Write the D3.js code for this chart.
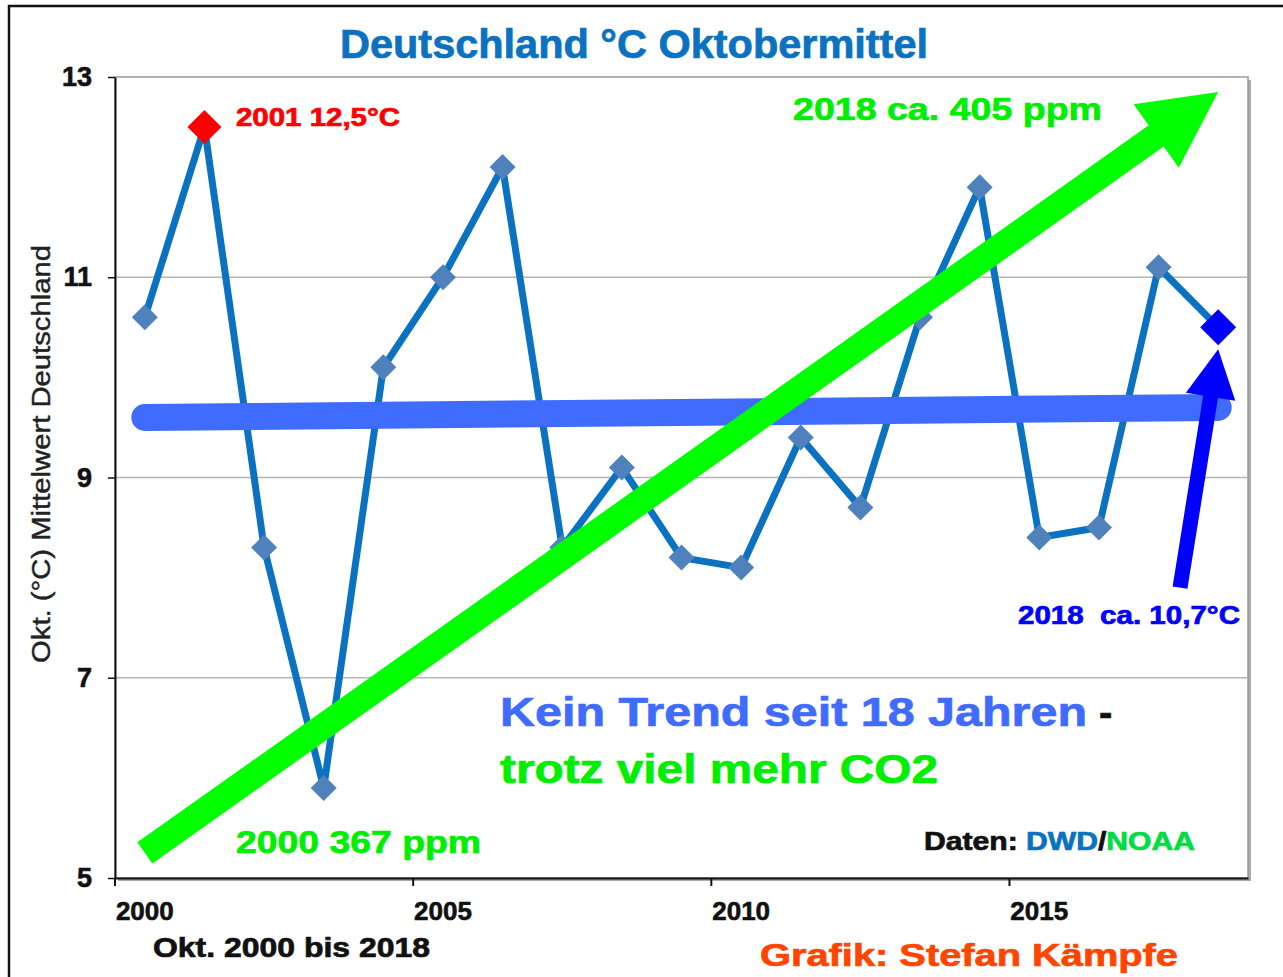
<!DOCTYPE html>
<html>
<head>
<meta charset="utf-8">
<script src="https://cdn.jsdelivr.net/npm/d3@7"></script>
<style>
  html, body { margin: 0; padding: 0; background: #fff; }
  text { font-family: "Liberation Sans", Arial, sans-serif; }
</style>
</head>
<body>
<div id="chart"></div>
<script>
// data
const years = ["2000", "2001", "2002", "2003", "2004", "2005", "2006", "2007", "2008", "2009",
               "2010", "2011", "2012", "2013", "2014", "2015", "2016", "2017", "2018"];
const temps = [10.6, 12.5, 8.3, 5.9, 10.1, 11.0, 12.1, 8.3, 9.1, 8.2,
               8.1, 9.4, 8.7, 10.6, 11.9, 8.4, 8.5, 11.1, 10.5];
const yTicks = [5, 7, 9, 11, 13];
const xTickLabels = ["2000", "2005", "2010", "2015"];
const trendYears = [2000, 2018];
const trendValues = [9.6, 9.7];
const co2Arrow = [[2000, 5.25], [2018, 12.85]];   // [year, °C] tail -> tip
const lastArrow = [[2017.36, 7.9], [2018, 10.28]];

const width = 1283;
const height = 977;
const plotLeft = 115, plotRight = 1248, plotTop = 77, plotBottom = 878;

const svg = d3.select("#chart")
    .append("svg")
    .attr("width", width)
    .attr("height", height);

// outer frame
svg.append("rect")
    .attr("x", 9).attr("y", 6)
    .attr("width", 1300).attr("height", 1000)
    .attr("fill", "#fff")
    .attr("stroke", "#111")
    .attr("stroke-width", 2.5);

const x = d3.scaleBand().domain(years).range([plotLeft, plotRight]);
const xc = d => x(d) + x.bandwidth() / 2;
const xYear = d3.scaleLinear()
    .domain([2000, 2018])
    .range([xc("2000"), xc("2018")]);
const y = d3.scaleLinear().domain([5, 13]).range([plotBottom, plotTop]);

// plot shadow + border
svg.append("rect")
    .attr("x", plotLeft + 3).attr("y", plotTop + 3)
    .attr("width", plotRight - plotLeft).attr("height", plotBottom - plotTop)
    .attr("fill", "#aaa");
svg.append("rect")
    .attr("x", plotLeft).attr("y", plotTop)
    .attr("width", plotRight - plotLeft).attr("height", plotBottom - plotTop)
    .attr("fill", "#fff")
    .attr("stroke", "#999")
    .attr("stroke-width", 1.5);

// gridlines
svg.selectAll(".grid")
    .data(yTicks.slice(1))
    .enter()
    .append("line")
    .attr("class", "grid")
    .attr("x1", plotLeft).attr("x2", plotRight)
    .attr("y1", d => y(d)).attr("y2", d => y(d))
    .attr("stroke", "#b5b5b5")
    .attr("stroke-width", 1.5);

// y axis
const yAxis = svg.append("g")
    .attr("transform", `translate(${plotLeft},0)`)
    .call(d3.axisLeft(y).tickValues(yTicks).tickSize(7).tickPadding(16).tickSizeOuter(0));
yAxis.select(".domain").attr("stroke", "#111").attr("stroke-width", 2);
yAxis.selectAll(".tick line").attr("stroke", "#111").attr("stroke-width", 1.5);
yAxis.selectAll("text")
    .attr("font-size", 27).attr("font-weight", "bold").attr("fill", "#111")
    .attr("stroke", "#111").attr("stroke-width", 0.6)
    .style("font-family", "'Liberation Sans', Arial, sans-serif");

// x axis
const xAxis = svg.append("g")
    .attr("transform", `translate(0,${plotBottom})`)
    .call(d3.axisBottom(x).tickValues(xTickLabels).tickSize(0).tickPadding(24).tickSizeOuter(0));
xAxis.select(".domain").attr("stroke", "#111").attr("stroke-width", 2);
xAxis.selectAll("text")
    .attr("font-size", 26).attr("font-weight", "bold").attr("fill", "#111")
    .attr("stroke", "#111").attr("stroke-width", 0.6)
    .style("font-family", "'Liberation Sans', Arial, sans-serif");
svg.selectAll(".xtick")
    .data(xTickLabels)
    .enter()
    .append("line")
    .attr("class", "xtick")
    .attr("x1", d => x(d)).attr("x2", d => x(d))
    .attr("y1", plotBottom).attr("y2", plotBottom + 8)
    .attr("stroke", "#111")
    .attr("stroke-width", 2);

// data line
const points = years.map((yr, i) => ({ yr, v: temps[i] }));
svg.append("path")
    .datum(points)
    .attr("d", d3.line().x(d => xc(d.yr)).y(d => y(d.v)))
    .attr("fill", "none")
    .attr("stroke", "#0a72c0")
    .attr("stroke-width", 7);

function diamond(cx, cy, r) {
    return `M${cx},${cy - r}L${cx + r},${cy}L${cx},${cy + r}L${cx - r},${cy}Z`;
}
svg.selectAll(".marker")
    .data(points)
    .enter()
    .append("path")
    .attr("class", "marker")
    .attr("d", d => {
        const r = d.yr === "2001" ? 17 : d.yr === "2018" ? 18 : 13;
        return diamond(xc(d.yr), y(d.v), r);
    })
    .attr("fill", d => d.yr === "2001" ? "#ff0000" : d.yr === "2018" ? "#0000ff" : "#4f81bd");

// trend line
svg.append("line")
    .attr("x1", xYear(trendYears[0])).attr("y1", y(trendValues[0]))
    .attr("x2", xYear(trendYears[1])).attr("y2", y(trendValues[1]))
    .attr("stroke", "#3f6cff")
    .attr("stroke-width", 27)
    .attr("stroke-linecap", "round");

// arrows
function arrow(p0, p1, w, hl, hw) {
    const dx = p1[0] - p0[0], dy = p1[1] - p0[1];
    const len = Math.hypot(dx, dy);
    const ux = dx / len, uy = dy / len;
    const nx = -uy, ny = ux;
    const bx = p1[0] - ux * hl, by = p1[1] - uy * hl;
    const pts = [
        [p0[0] + nx * w / 2, p0[1] + ny * w / 2],
        [bx + nx * w / 2, by + ny * w / 2],
        [bx + nx * hw / 2, by + ny * hw / 2],
        p1,
        [bx - nx * hw / 2, by - ny * hw / 2],
        [bx - nx * w / 2, by - ny * w / 2],
        [p0[0] - nx * w / 2, p0[1] - ny * w / 2]
    ];
    return "M" + pts.map(p => p.join(",")).join("L") + "Z";
}
const toPx = p => [xYear(p[0]), y(p[1])];

svg.append("path")
    .attr("d", arrow(toPx(lastArrow[0]), toPx(lastArrow[1]), 15, 48, 50))
    .attr("fill", "#0000ff");

svg.append("path")
    .attr("d", arrow(toPx(co2Arrow[0]), toPx(co2Arrow[1]), 26, 76, 78))
    .attr("fill", "#00ff00");

// texts
function label(txt, xPos, yPos, size, color, len) {
    const t = svg.append("text")
        .attr("x", xPos).attr("y", yPos)
        .attr("font-size", size)
        .attr("font-weight", "bold")
        .attr("fill", color)
        .attr("stroke", color)
        .attr("stroke-width", 0.7)
        .style("white-space", "pre")
        .text(txt);
    if (len) t.attr("textLength", len).attr("lengthAdjust", "spacingAndGlyphs");
    return t;
}

label("Deutschland °C Oktobermittel", 340, 58, 40, "#0a72c0", 588);
label("2001 12,5°C", 236, 126, 25, "#ff0000", 164);
label("2018 ca. 405 ppm", 793, 120, 32, "#00ee00", 309);
label("Kein Trend seit 18 Jahren", 500, 726, 40, "#3f6cff", 587);
label("-", 1099, 726, 40, "#111");
label("trotz viel mehr CO2", 500, 783, 40, "#00ee00", 438);
label("2000 367 ppm", 236, 853, 32, "#00ee00", 245);
label("2018  ca. 10,7°C", 1018, 624, 25, "#0000ff", 222);
label("Okt. 2000 bis 2018", 153, 957, 27, "#111", 277);
label("Grafik: Stefan Kämpfe", 760, 966, 32, "#ff4500", 418);

const src = label("", 924, 850, 25, "#111", 271);
src.append("tspan").text("Daten: ").attr("fill", "#111").attr("stroke", "#111");
src.append("tspan").text("DWD").attr("fill", "#0a72c0").attr("stroke", "#0a72c0");
src.append("tspan").text("/").attr("fill", "#111").attr("stroke", "#111");
src.append("tspan").text("NOAA").attr("fill", "#00dd44").attr("stroke", "#00dd44");

svg.append("text")
    .attr("transform", "translate(50,454) rotate(-90)")
    .attr("text-anchor", "middle")
    .attr("font-size", 25)
    .attr("fill", "#222")
    .attr("stroke", "#222")
    .attr("stroke-width", 0.4)
    .attr("textLength", 418)
    .attr("lengthAdjust", "spacingAndGlyphs")
    .text("Okt. (°C) Mittelwert Deutschland");
</script>
</body>
</html>
